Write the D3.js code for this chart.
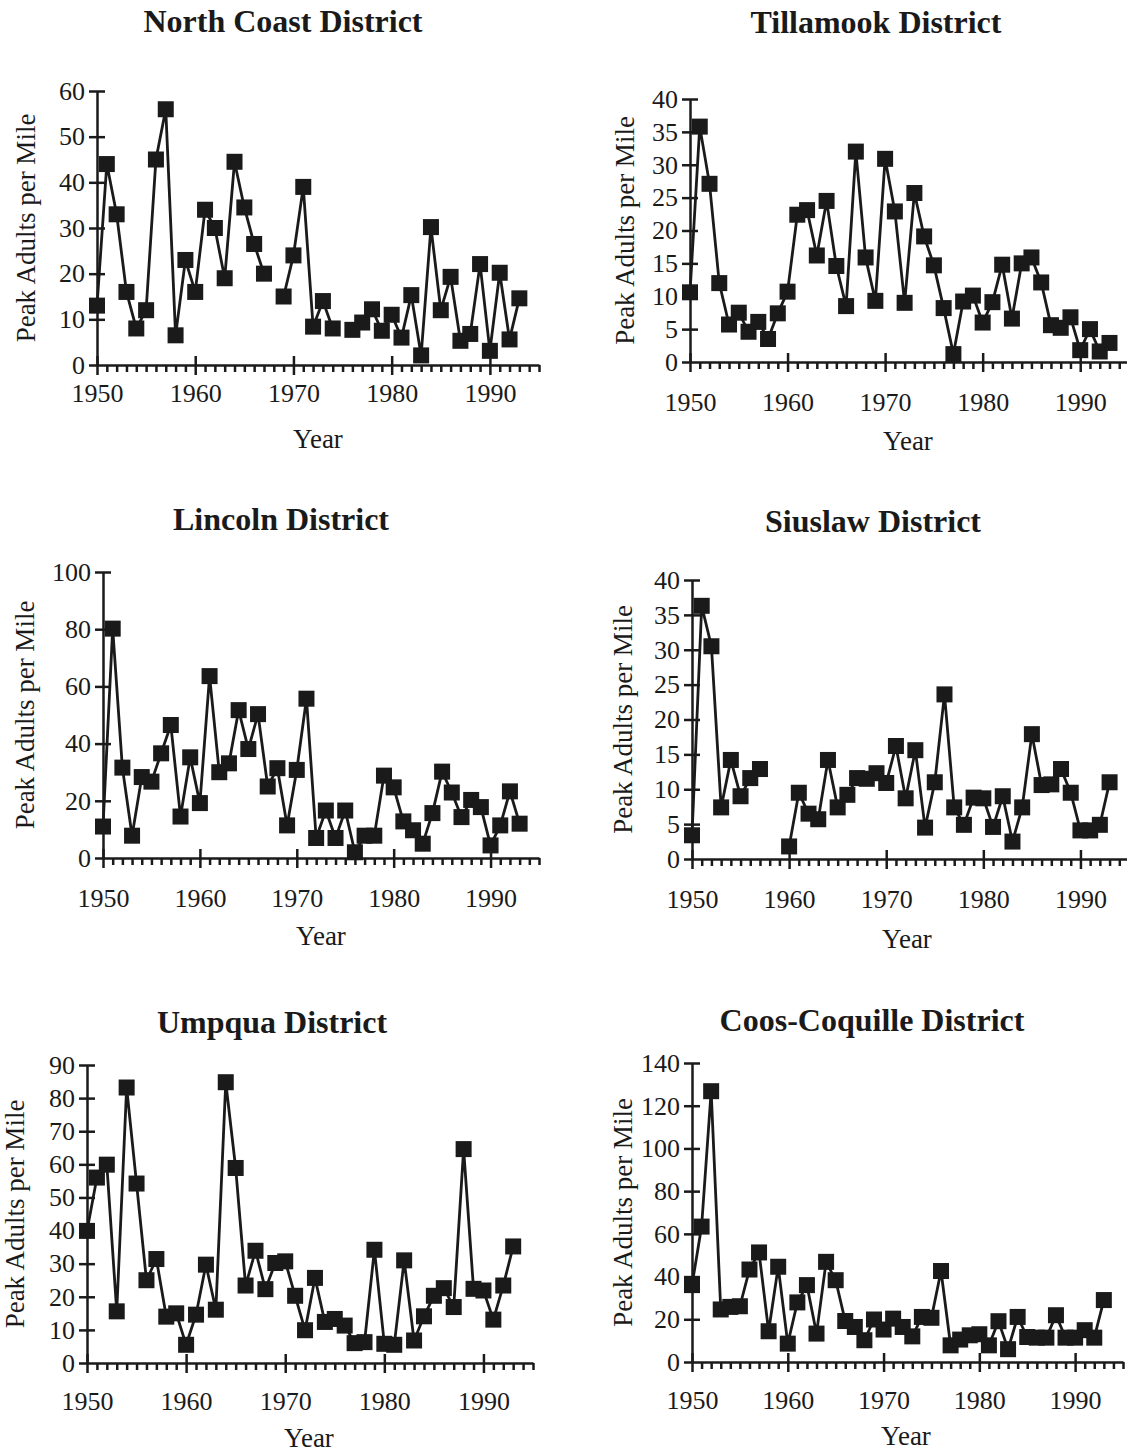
<!DOCTYPE html>
<html>
<head>
<meta charset="utf-8">
<script src="https://cdn.jsdelivr.net/npm/d3@7"></script>
<style>
body { margin: 0; background: #fff; }
svg { display: block; }
.title { font-family: 'Liberation Serif', 'Times New Roman', serif; font-weight: bold; font-size: 32px; fill: #1a1a1a; }
.axis text { font-family: 'Liberation Serif', 'Times New Roman', serif; font-size: 26px; fill: #1a1a1a; }
.lbl { font-family: 'Liberation Serif', 'Times New Roman', serif; font-size: 27px; fill: #1a1a1a; }
.axis path, .axis line { stroke: #1a1a1a; stroke-width: 2.5; }
.series { fill: none; stroke: #1a1a1a; stroke-width: 2.8; stroke-linejoin: miter; }
.mark { fill: #1a1a1a; }
</style>
</head>
<body>
<div id="chart"></div>
<script>
// years 1950..1993, null = no survey
var years = d3.range(1950, 1994)

var northCoast = [13,44,33,16,8,12,45,56,6.5,23, 16,34,30,19,44.5,34.5,26.5,20,null,15, 24,39,8.4,14,8,null,7.7,9.3,12.2,7.5, 11,6,15.3,2.1,30.2,12,19.3,5.3,6.8,22.1, 3.1,20.2,5.6,14.6]
var tillamook = [10.6,35.8,27.1,12,5.7,7.5,4.6,6.1,3.5,7.4, 10.7,22.4,23.1,16.2,24.5,14.6,8.5,32,15.9,9.3, 30.9,22.9,9,25.7,19.1,14.7,8.2,1.2,9.2,10.1, 6,9.1,14.8,6.6,15,15.9,12.1,5.6,5.2,6.8, 1.8,5,1.6,2.9]
var lincoln = [11,80.2,31.6,7.8,28.3,26.7,36.6,46.5,14.5,35.2, 19.2,63.6,30,33.1,51.7,38.1,50.3,25,31.4,11.4, 30.8,55.7,7,16.6,7,16.6,2,7.8,7.8,28.8, 24.7,12.8,9.7,5,15.7,30.2,22.9,14.3,20.3,17.8, 4.4,11.4,23.3,12]
var siuslaw = [3.4,36.3,30.5,7.4,14.2,9,11.6,12.9,null,null, 1.8,9.5,6.5,5.7,14.2,7.4,9.2,11.6,11.5,12.3, 10.9,16.2,8.7,15.6,4.5,11,23.6,7.4,4.9,8.8, 8.7,4.6,9,2.5,7.4,17.9,10.6,10.7,12.9,9.5, 4.1,4.1,4.9,11]
var umpqua = [39.9,56,59.9,15.6,83.2,54.2,25,31.4,14,15, 5.5,14.6,29.7,16.1,84.8,58.9,23.4,33.9,22.3,30.2, 30.7,20.3,9.9,25.7,12.4,13.3,11.3,6,6.3,34.2, 5.8,5.5,31,6.8,14.1,20.3,22.6,16.9,64.6,22.4, 21.9,13.1,23.4,35.2]
var coosCoquille = [36,63.4,126.8,24.6,25.8,26.1,43.3,51.3,14.4,44.6, 8.6,27.9,36,13.3,46.9,38.3,19.2,16.4,10.2,19.9, 15.2,20.3,16.4,12,21.1,20.7,42.6,7.8,10.5,12.5, 13,7.8,19.1,6,21.1,11.7,11.4,11.4,21.9,11.4, 11.4,14.9,11.4,29]

var decadeTicks = [1950, 1960, 1970, 1980, 1990]
var yearTicks = d3.range(1950, 1996)

var panels = [
	{ title: 'North Coast District', values: northCoast, yMax: 60, yStep: 10,
	  x0: 97, x1: 539, yTop: 91, yBot: 365, xPad: 12,
	  titleX: 283, titleY: 32, yearX: 318, yearY: 448, yLabelX: 35 },
	{ title: 'Tillamook District', values: tillamook, yMax: 40, yStep: 5,
	  x0: 690, x1: 1129, yTop: 99, yBot: 362, xPad: 24,
	  titleX: 876, titleY: 33, yearX: 908, yearY: 450, yLabelX: 634 },
	{ title: 'Lincoln District', values: lincoln, yMax: 100, yStep: 20,
	  x0: 103, x1: 539, yTop: 572, yBot: 858, xPad: 24,
	  titleX: 281, titleY: 530, yearX: 321, yearY: 945, yLabelX: 34 },
	{ title: 'Siuslaw District', values: siuslaw, yMax: 40, yStep: 5,
	  x0: 692, x1: 1129, yTop: 580, yBot: 859, xPad: 24,
	  titleX: 873, titleY: 532, yearX: 907, yearY: 948, yLabelX: 632 },
	{ title: 'Umpqua District', values: umpqua, yMax: 90, yStep: 10,
	  x0: 87, x1: 533, yTop: 1065, yBot: 1363, xPad: 22,
	  titleX: 272, titleY: 1033, yearX: 309, yearY: 1447, yLabelX: 24 },
	{ title: 'Coos-Coquille District', values: coosCoquille, yMax: 140, yStep: 20,
	  x0: 692, x1: 1123, yTop: 1063, yBot: 1362, xPad: 22,
	  titleX: 872, titleY: 1031, yearX: 906, yearY: 1445, yLabelX: 632 }
]

var svg = d3.select('#chart').append('svg')
	.attr('width', 1127)
	.attr('height', 1453)

var markSize = 16

panels.forEach(function(p) {

	var x = d3.scaleLinear().domain([1950, 1995]).range([p.x0, p.x1])
	var y = d3.scaleLinear().domain([0, p.yMax]).range([p.yBot, p.yTop])

	var g = svg.append('g')

	g.append('text')
		.attr('class', 'title')
		.attr('x', p.titleX)
		.attr('y', p.titleY)
		.attr('text-anchor', 'middle')
		.text(p.title)

	// x axis: year ticks below, decade ticks crossing
	var xAxis = d3.axisBottom(x)
		.tickValues(yearTicks)
		.tickSizeInner(7)
		.tickSizeOuter(0)
		.tickPadding(p.xPad)
		.tickFormat(function(d) { return decadeTicks.indexOf(d) >= 0 ? d : '' })

	var gx = g.append('g')
		.attr('class', 'axis')
		.attr('transform', 'translate(0,' + p.yBot + ')')
		.call(xAxis)

	gx.selectAll('.tick')
		.filter(function(d) { return decadeTicks.indexOf(d) >= 0 })
		.select('line')
		.attr('y1', -9)
		.attr('y2', 10)

	gx.selectAll('.tick text').attr('dy', '0.71em')

	// y axis: ticks crossing the axis
	var yAxis = d3.axisLeft(y)
		.tickValues(d3.range(0, p.yMax + 1, p.yStep))
		.tickSizeInner(8)
		.tickSizeOuter(0)
		.tickPadding(4)

	var gy = g.append('g')
		.attr('class', 'axis')
		.attr('transform', 'translate(' + p.x0 + ',0)')
		.call(yAxis)

	gy.selectAll('.tick line').attr('x1', 8)
	gy.selectAll('.tick')
		.filter(function(d) { return d === 0 })
		.select('line')
		.attr('x1', 0)

	g.append('text')
		.attr('class', 'lbl')
		.attr('x', p.yearX)
		.attr('y', p.yearY)
		.attr('text-anchor', 'middle')
		.text('Year')

	g.append('text')
		.attr('class', 'lbl')
		.attr('transform', 'translate(' + p.yLabelX + ',' + ((p.yTop + p.yBot) / 2) + ') rotate(-90)')
		.attr('text-anchor', 'middle')
		.text('Peak Adults per Mile')

	var pts = years.map(function(yr, i) {
		return { year: yr, value: p.values[i] }
	})

	var line = d3.line()
		.defined(function(d) { return d.value != null })
		.x(function(d) { return x(d.year) })
		.y(function(d) { return y(d.value) })

	g.append('path')
		.attr('class', 'series')
		.attr('d', line(pts))

	g.selectAll('rect.mark')
		.data(pts.filter(function(d) { return d.value != null }))
		.enter().append('rect')
		.attr('class', 'mark')
		.attr('x', function(d) { return x(d.year) - markSize / 2 })
		.attr('y', function(d) { return y(d.value) - markSize / 2 })
		.attr('width', markSize)
		.attr('height', markSize)

})
</script>
</body>
</html>
